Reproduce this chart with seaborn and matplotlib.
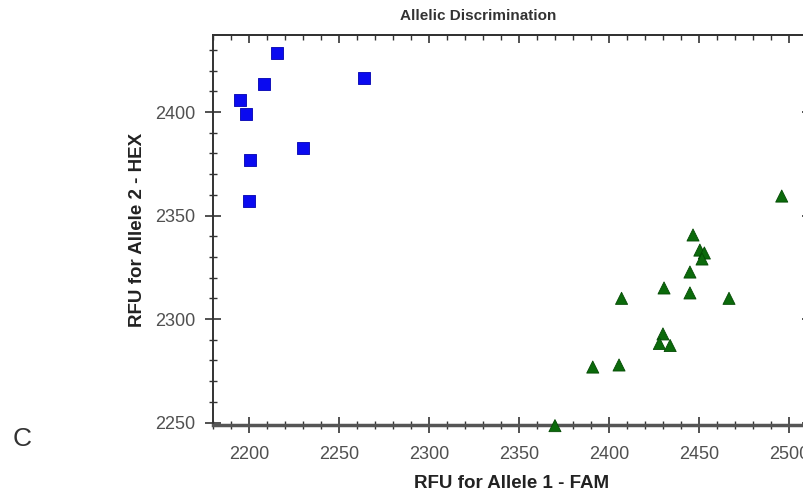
import matplotlib
matplotlib.use("Agg")
import matplotlib.pyplot as plt
import numpy as np
import pandas as pd
import seaborn as sns
from matplotlib.ticker import MultipleLocator

# Allele 2 (HEX) cluster - blue squares
hex_fam = [2215.6, 2264.0, 2208.3, 2195.0, 2198.5, 2230.0, 2200.5, 2200.0]
hex_hex = [2428.5, 2416.4, 2413.5, 2405.8, 2399.0, 2382.6, 2376.8, 2357.0]

# Allele 1 (FAM) cluster - green triangles
fam_fam = [2496.0, 2446.7, 2450.5, 2453.0, 2451.7, 2445.0, 2430.6, 2445.0,
           2407.0, 2466.7, 2430.0, 2428.0, 2434.0, 2391.0, 2405.6, 2370.0]
fam_hex = [2359.4, 2340.6, 2333.3, 2331.9, 2329.0, 2322.7, 2315.0, 2312.6,
           2310.0, 2310.0, 2292.8, 2288.2, 2287.2, 2276.8, 2277.8, 2248.5]

df = pd.DataFrame({
    "fam": hex_fam + fam_fam,
    "hex": hex_hex + fam_hex,
    "call": ["Allele 2"] * len(hex_fam) + ["Allele 1"] * len(fam_fam),
})

sns.set_style("white")
plt.rcParams["font.family"] = ["Liberation Sans", "DejaVu Sans"]

fig = plt.figure(figsize=(8.04, 4.92), dpi=100)
ax = fig.add_axes([213 / 804, 1 - 425 / 492, (810 - 213) / 804, (425 - 35) / 492])

sns.scatterplot(data=df, x="fam", y="hex", hue="call", style="call",
                palette={"Allele 2": "#0a0af0", "Allele 1": "#0b6a0b"},
                markers={"Allele 2": "s", "Allele 1": "^"},
                s=76, linewidth=0.6, legend=False, ax=ax,
                clip_on=False, zorder=3)
ax.collections[0].set_edgecolors(
    ["#0000b0" if k == "Allele 2" else "#044a04" for k in df["call"]])

ax.set_xlim(2180, 2511.7)
ax.set_ylim(2248.8, 2437.2)

for axis in (ax.xaxis, ax.yaxis):
    axis.set_major_locator(MultipleLocator(50))
    axis.set_minor_locator(MultipleLocator(10))

# left / bottom: ticks crossing the axis line
ax.tick_params(axis="both", which="major", direction="inout", length=12,
               width=1.2, color="#333333", labelsize=13, labelcolor="#505050",
               bottom=True, left=True, top=False, right=False)
ax.tick_params(axis="both", which="minor", direction="inout", length=6,
               width=1.0, color="#333333",
               bottom=True, left=True, top=False, right=False)
ax.tick_params(axis="x", which="major", pad=9)
ax.tick_params(axis="y", which="major", pad=7)

# top / right: inward ticks only, no labels
top = ax.secondary_xaxis("top")
right = ax.secondary_yaxis("right")
for sec, axis in ((top, top.xaxis), (right, right.yaxis)):
    axis.set_major_locator(MultipleLocator(50))
    axis.set_minor_locator(MultipleLocator(10))
    sec.tick_params(which="major", direction="in", length=6, width=1.2,
                    color="#333333", labelleft=False, labelright=False,
                    labeltop=False, labelbottom=False)
    sec.tick_params(which="minor", direction="in", length=3.5, width=1.0,
                    color="#333333")
    for sp in sec.spines.values():
        sp.set_color("#333333")
        sp.set_linewidth(1.4)

for side in ["left", "top", "right"]:
    ax.spines[side].set_color("#333333")
    ax.spines[side].set_linewidth(1.4)
ax.spines["bottom"].set_color("#555555")
ax.spines["bottom"].set_linewidth(2.5)

ax.set_xlabel("RFU for Allele 1 - FAM", fontsize=13.5, fontweight="bold",
              color="#222222", labelpad=9)
ax.set_ylabel("RFU for Allele 2 - HEX", fontsize=13.5, fontweight="bold",
              color="#222222", labelpad=6)

fig.text(478 / 804, 1 - 16 / 492, "Allelic Discrimination", ha="center",
         va="center", fontsize=11, fontweight="bold", color="#333333")
fig.text(22 / 804, 1 - 439 / 492, "C", ha="center", va="center",
         fontsize=19, color="#333333")

fig.savefig("out.png", dpi=100)
